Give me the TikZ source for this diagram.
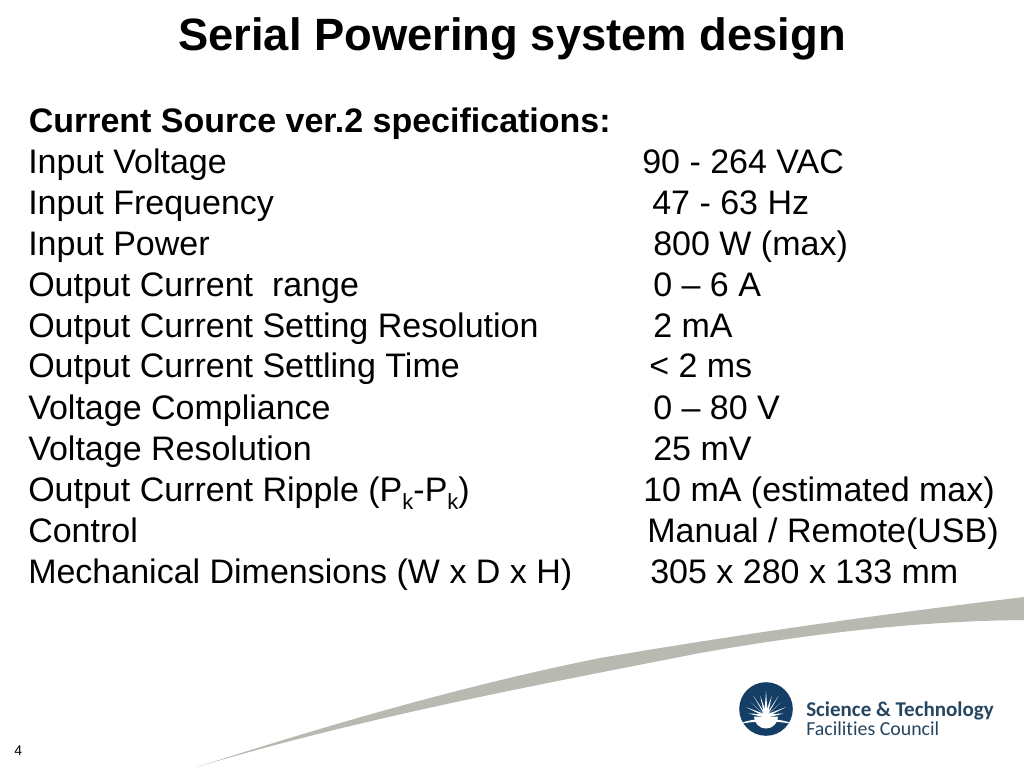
\documentclass[tikz,border=0pt]{standalone}
\usepackage{fontspec}
\setmainfont{Liberation Sans}
\newfontfamily\logofont[Ligatures={NoCommon}]{Carlito}
\definecolor{swoosh}{RGB}{184,186,178}
\definecolor{stfc}{RGB}{20,62,102}
\definecolor{stfctext}{RGB}{38,70,96}
\tikzset{
 spec/.style={anchor=base west,inner sep=0pt,font=\fontsize{25.5}{30}\selectfont,text=black},
 titletext/.style={anchor=base,inner sep=0pt,font=\fontsize{34}{40}\bfseries\selectfont},
}
\newcommand{\subk}{\raisebox{-0.45ex}{\fontsize{16.5}{16.5}\selectfont k}}
\begin{document}
\begin{tikzpicture}[x=0.75pt,y=-0.75pt]
\useasboundingbox (0,0) rectangle (1024,768);
\fill[white] (0,0) rectangle (1024,768);
\fill[swoosh] (197,767) .. controls (331,724) and (466,685) .. (600,658)
  .. controls (741,634) and (883,614) .. (1024,597)
  -- (1024,620) .. controls (916,621) and (808,634) .. (700,653)
  .. controls (532,686) and (365,717) .. (197,767) -- cycle;
\node[titletext] (title) at (512,50) {Serial Powering system design};
\node[spec] (h) at (28.5,132) {\bfseries Current Source ver.2 specifications:};
\node[spec] (l1) at (28,173) {Input Voltage};
\node[spec] (v1) at (642,173) {90 - 264 VAC};
\node[spec] (l2) at (28,214) {Input Frequency};
\node[spec] (v2) at (652,214) {47 - 63 Hz};
\node[spec] (l3) at (28,255) {Input Power};
\node[spec] (v3) at (653,255) {800 W (max)};
\node[spec] (l4) at (28,296) {Output Current\ \ range};
\node[spec] (v4) at (653,296) {0 – 6 A};
\node[spec] (l5) at (28,337) {Output Current Setting Resolution};
\node[spec] (v5) at (653,337) {2 mA};
\node[spec] (l6) at (28,377.5) {Output Current Settling Time};
\node[spec] (v6) at (649,377.5) {< 2 ms};
\node[spec] (l7) at (28,419) {Voltage Compliance};
\node[spec] (v7) at (653,419) {0 – 80 V};
\node[spec] (l8) at (28,460) {Voltage Resolution};
\node[spec] (v8) at (653,460) {25 mV};
\node[spec] (l9) at (28,501) {Output Current Ripple (P\subk-P\subk)};
\node[spec] (v9) at (643,501) {10 mA (estimated max)};
\node[spec] (l10) at (28,542) {Control};
\node[spec] (v10) at (647,542) {Manual / Remote(USB)};
\node[spec] (l11) at (28,583) {Mechanical Dimensions (W x D x H)};
\node[spec] (v11) at (650,583) {305 x 280 x 133 mm};
\node[anchor=base west,inner sep=0pt,font=\fontsize{10.5}{12}\selectfont] (num) at (14,755) {4};
% logo
\fill[stfc] (766,709) circle (26.8);
\begin{scope}
\clip (766,709) circle (26.8);
\foreach \a/\r in {8/18,24/22,42/20,58/24,74/21,90/25,106/21,122/24,138/20,156/22,172/18}{
  \fill[white] ({766-1.8*sin(\a)},{716+1.8*cos(\a)}) -- ({766+\r*cos(\a)},{716-\r*sin(\a)}) -- ({766+1.8*sin(\a)},{716-1.8*cos(\a)}) -- cycle;
}
\fill[white] (754,716.5) arc (180:0:12) -- cycle;
\fill[white] (738,724.5) .. controls (752,717) and (780,717) .. (794,724.5) .. controls (780,720.5) and (752,720.5) .. (738,724.5) -- cycle;
\end{scope}
\node[anchor=base west,inner sep=0pt,text=stfctext,font=\logofont\fontsize{15.75}{18}\bfseries\selectfont] (sci) at (806,716.5) {Science \& Technology};
\node[anchor=base west,inner sep=0pt,text=stfctext,font=\logofont\fontsize{14.9}{18}\selectfont] (fac) at (806,735.5) {Facilities Council};
\end{tikzpicture}
\end{document}
